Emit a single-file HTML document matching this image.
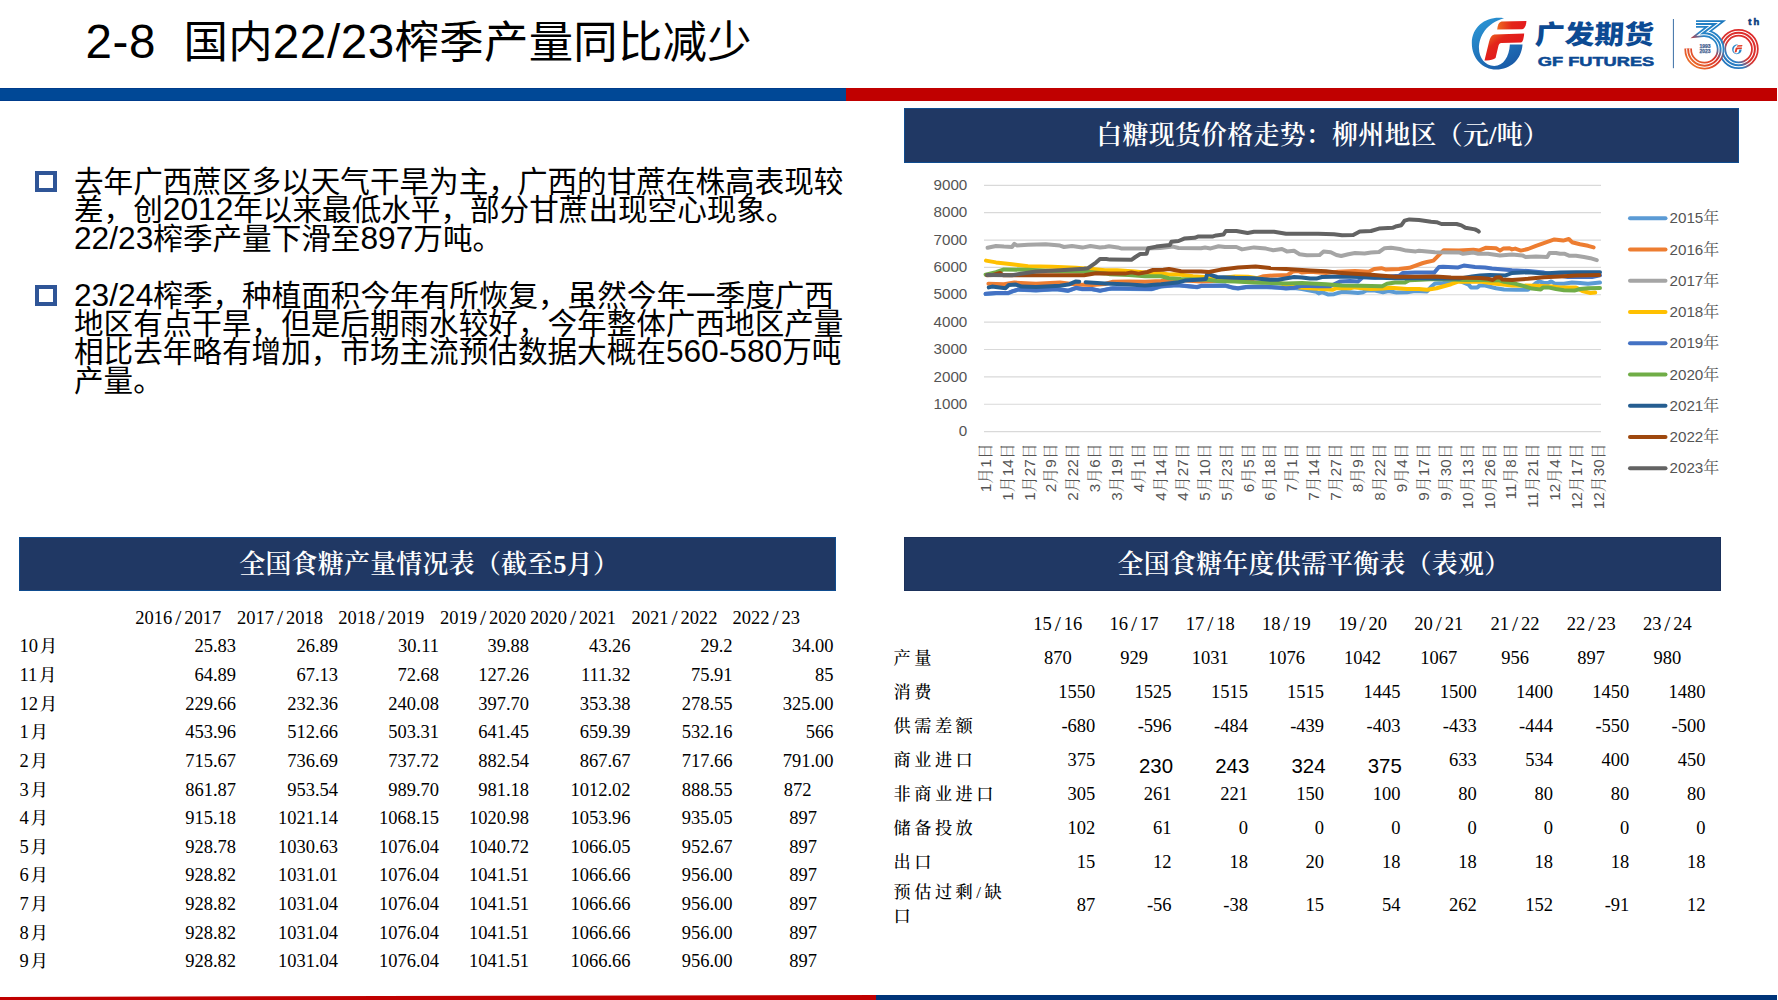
<!DOCTYPE html>
<html lang="zh-CN">
<head>
<meta charset="utf-8">
<title>2-8 国内22/23榨季产量同比减少</title>
<style>
html,body{margin:0;padding:0;background:#fff;}
body{width:1778px;height:1000px;position:relative;overflow:hidden;font-family:"Liberation Sans","Noto Sans CJK SC",sans-serif;color:#000;}
.abs{position:absolute;white-space:nowrap;}
#title{left:85.5px;top:12px;font-size:44.4px;line-height:60px;letter-spacing:0.25px;}
#title .d{font-size:47.5px;letter-spacing:0.6px;}
.body .d{font-size:31.7px;line-height:0;}
.bar{position:absolute;}
.body{position:absolute;left:74px;font-size:29.6px;line-height:28px;height:28px;white-space:nowrap;letter-spacing:0;}
.bul{position:absolute;left:35px;width:13.5px;height:13.5px;border:4px solid #2F5597;background:#fff;}
.hbox{position:absolute;background:#203864;border:1px solid #0F4C8F;box-sizing:border-box;color:#fff;text-align:center;font-family:"Liberation Serif","Noto Serif CJK SC",serif;font-weight:600;font-size:25.9px;letter-spacing:0.3px;padding-left:3px;}
.n{position:absolute;font-family:"Liberation Serif","Noto Serif CJK SC",serif;font-size:18.5px;line-height:24px;height:24px;white-space:nowrap;color:#000;}
.n.c{text-align:center;}
.sl{padding:0 2.9px;font-size:22px;line-height:0;position:relative;top:0.5px;}
.k{font-size:17.5px;padding-left:1.8px;font-weight:500;}
.kl{position:absolute;font-family:"Liberation Serif","Noto Serif CJK SC",serif;font-size:17.2px;line-height:24px;letter-spacing:3.5px;font-weight:500;white-space:nowrap;color:#000;}
.ns{position:absolute;font-family:"Liberation Sans","Noto Sans CJK SC",sans-serif;font-size:20.4px;line-height:24px;height:24px;white-space:nowrap;color:#000;}
</style>
</head>
<body>
<div id="title" class="abs"><span class="d">2-8&nbsp; </span>国内<span class="d">22/23</span>榨季产量同比减少</div>
<div class="bar" style="left:0;top:88px;width:846px;height:13px;background:#004896;box-sizing:border-box;border-top:1px solid #003C8C;border-bottom:1px solid #003C8C"></div>
<div class="bar" style="left:846px;top:88px;width:931px;height:13px;background:#C00000"></div>
<svg class="abs" style="left:0;top:990px" width="1778" height="10" viewBox="0 990 1778 10"><polygon points="0,996.9 876,994.9 876,1000 0,1000" fill="#C00000"/><rect x="876" y="995" width="901" height="5" fill="#003478"/></svg>

<div class="bul" style="top:170.5px"></div>
<div class="body" style="top:167.74px">去年广西蔗区多以天气干旱为主，广西的甘蔗在株高表现较</div>
<div class="body" style="top:196.24px">差，创<span class="d">2012</span>年以来最低水平，部分甘蔗出现空心现象。</div>
<div class="body" style="top:224.74px"><span class="d">22/23</span>榨季产量下滑至<span class="d">897</span>万吨。</div>
<div class="bul" style="top:284.5px"></div>
<div class="body" style="top:281.74px"><span class="d">23/24</span>榨季，种植面积今年有所恢复，虽然今年一季度广西</div>
<div class="body" style="top:310.04px">地区有点干旱，但是后期雨水较好，今年整体广西地区产量</div>
<div class="body" style="top:338.34px">相比去年略有增加，市场主流预估数据大概在<span class="d">560-580</span>万吨</div>
<div class="body" style="top:366.64px">产量。</div>

<div class="hbox" style="left:903.6px;top:107.8px;width:835.2px;height:54.8px;line-height:54.6px;">白糖现货价格走势：柳州地区（元/吨）</div>
<div class="hbox" style="left:19px;top:536.7px;width:817.3px;height:54.6px;line-height:54.4px;">全国食糖产量情况表（截至5月）</div>
<div class="hbox" style="left:904px;top:537px;width:817px;height:53.8px;line-height:54px;border-color:#1B315B;">全国食糖年度供需平衡表（表观）</div>

<svg class="abs" style="left:0;top:0" width="1778" height="1000" viewBox="0 0 1778 1000">
<line x1="984" x2="1601" y1="431.60" y2="431.60" stroke="#D9D9D9" stroke-width="1.2"/>
<line x1="984" x2="1601" y1="404.23" y2="404.23" stroke="#D9D9D9" stroke-width="1.2"/>
<line x1="984" x2="1601" y1="376.87" y2="376.87" stroke="#D9D9D9" stroke-width="1.2"/>
<line x1="984" x2="1601" y1="349.50" y2="349.50" stroke="#D9D9D9" stroke-width="1.2"/>
<line x1="984" x2="1601" y1="322.13" y2="322.13" stroke="#D9D9D9" stroke-width="1.2"/>
<line x1="984" x2="1601" y1="294.77" y2="294.77" stroke="#D9D9D9" stroke-width="1.2"/>
<line x1="984" x2="1601" y1="267.40" y2="267.40" stroke="#D9D9D9" stroke-width="1.2"/>
<line x1="984" x2="1601" y1="240.03" y2="240.03" stroke="#D9D9D9" stroke-width="1.2"/>
<line x1="984" x2="1601" y1="212.67" y2="212.67" stroke="#D9D9D9" stroke-width="1.2"/>
<line x1="984" x2="1601" y1="185.30" y2="185.30" stroke="#D9D9D9" stroke-width="1.2"/>
<polyline points="985.6,294.1 996.0,293.3 1008.0,293.3 1012.0,291.7 1018.4,289.7 1036.0,290.5 1056.0,289.3 1068.0,290.9 1076.0,288.1 1082.4,289.3 1092.0,289.3 1100.0,290.9 1110.0,288.9 1113.0,288.5 1129.0,288.9 1151.4,289.3 1161.0,286.5 1177.0,285.3 1197.0,287.3 1201.0,286.1 1225.0,285.7 1233.0,287.9 1238.0,288.5 1246.0,287.3 1262.0,286.9 1278.0,287.7 1286.0,288.5 1294.0,288.1 1302.0,289.0 1316.4,291.8 1318.8,293.4 1322.0,292.2 1328.4,294.6 1334.0,294.2 1342.0,291.8 1350.0,292.2 1358.0,293.0 1363.0,292.2 1367.0,290.2 1375.0,290.6 1383.0,292.2 1388.6,291.0 1396.6,292.6 1407.0,292.2 1415.0,291.0 1427.0,291.4 1431.8,286.2 1435.0,283.4 1443.0,283.0 1451.0,281.4 1459.0,280.6 1468.6,284.6 1471.0,287.4 1477.4,287.4 1479.8,285.4 1485.0,285.6 1488.0,286.2 1496.0,288.2 1504.0,289.4 1516.0,289.8 1528.0,289.8 1536.0,283.0 1539.2,281.4 1544.0,283.0 1548.0,283.0 1551.2,281.4 1554.4,283.4 1564.0,283.8 1572.0,282.6 1580.0,283.0 1588.0,283.8 1600.0,282.6" fill="none" stroke="#5B9BD5" stroke-width="4.0" stroke-linejoin="round" stroke-linecap="round"/>
<polyline points="988.4,283.8 1004.0,284.2 1014.4,282.6 1036.0,283.8 1060.0,282.6 1076.0,284.6 1092.0,285.0 1105.0,284.0 1113.0,281.8 1129.0,281.4 1145.0,281.8 1161.0,281.0 1169.0,280.2 1185.0,280.6 1201.0,281.4 1230.0,280.2 1245.0,280.6 1258.0,278.0 1263.6,276.2 1274.0,275.4 1287.6,275.0 1293.2,271.4 1298.0,271.0 1302.0,272.6 1310.0,271.8 1326.0,273.0 1338.0,271.8 1355.0,271.0 1368.6,271.8 1374.2,269.0 1381.4,268.2 1385.4,269.4 1399.0,269.0 1409.4,267.8 1423.0,263.0 1427.0,262.0 1433.4,260.6 1439.8,254.2 1443.8,250.2 1459.0,250.6 1473.4,249.8 1479.0,250.6 1485.6,247.8 1496.0,248.2 1500.0,250.6 1503.2,248.6 1509.6,248.2 1512.0,249.4 1515.2,248.6 1520.8,250.6 1528.0,249.0 1536.0,245.8 1554.4,239.4 1563.2,240.6 1568.8,239.0 1572.0,242.2 1580.0,244.2 1588.0,245.8 1593.6,247.4" fill="none" stroke="#ED7D31" stroke-width="4.0" stroke-linejoin="round" stroke-linecap="round"/>
<polyline points="987.6,247.8 996.0,246.0 1004.0,246.6 1012.0,247.0 1014.4,243.8 1016.8,245.4 1028.0,244.8 1045.6,244.2 1060.0,245.6 1064.0,247.0 1072.0,246.0 1082.4,247.6 1090.4,246.0 1100.0,247.4 1105.0,247.0 1109.0,246.2 1117.8,247.4 1121.8,248.6 1145.0,248.6 1160.0,248.0 1173.0,246.6 1178.6,248.0 1201.0,248.2 1205.0,247.6 1210.6,248.4 1218.6,246.2 1225.0,247.0 1236.4,247.0 1242.0,249.4 1254.0,247.4 1266.0,248.6 1273.2,250.2 1282.0,249.0 1286.8,251.4 1294.0,250.8 1299.6,254.2 1306.8,255.2 1319.6,255.0 1323.6,251.4 1330.8,252.2 1336.4,255.0 1341.2,256.0 1348.4,254.2 1355.0,253.0 1364.6,253.4 1371.0,252.6 1379.0,252.0 1384.6,248.2 1391.0,247.8 1399.8,249.0 1406.2,250.6 1415.8,251.4 1419.0,250.8 1427.0,251.4 1435.0,252.2 1459.0,252.4 1463.0,253.8 1473.4,252.6 1478.2,253.8 1488.0,253.8 1500.0,255.4 1512.0,254.6 1522.4,255.4 1525.6,257.0 1536.0,256.6 1547.2,257.0 1549.6,253.0 1556.0,253.0 1560.0,253.8 1564.8,253.8 1569.6,255.8 1576.0,255.8 1584.0,257.0 1590.4,258.2 1596.8,260.2" fill="none" stroke="#A5A5A5" stroke-width="4.0" stroke-linejoin="round" stroke-linecap="round"/>
<polyline points="986.0,260.6 996.0,262.4 1012.0,264.2 1028.0,266.2 1052.0,266.8 1076.0,267.8 1092.0,269.0 1105.0,270.2 1117.0,270.2 1135.0,271.6 1149.8,273.0 1157.0,272.8 1169.0,274.6 1177.0,274.2 1193.0,276.2 1205.0,277.0 1209.0,278.2 1217.0,279.0 1225.0,277.4 1235.0,276.6 1248.0,276.8 1262.0,279.0 1275.0,282.0 1288.0,285.4 1298.8,287.4 1310.0,288.2 1322.0,289.0 1332.4,289.8 1336.4,288.2 1350.0,288.2 1355.0,287.4 1371.0,289.0 1383.0,288.6 1391.0,287.8 1407.0,289.0 1419.0,289.0 1427.0,289.8 1436.6,288.2 1451.0,284.2 1459.0,281.4 1467.0,281.8 1480.0,281.4 1496.0,283.8 1512.0,285.4 1536.0,285.8 1552.0,286.6 1560.0,287.4 1576.0,287.4 1582.4,291.0 1590.4,293.0 1595.2,292.6" fill="none" stroke="#FFC000" stroke-width="4.0" stroke-linejoin="round" stroke-linecap="round"/>
<polyline points="985.6,293.8 996.0,293.0 1008.0,293.0 1012.0,291.4 1018.4,289.4 1036.0,290.2 1056.0,289.0 1068.0,290.6 1076.0,287.8 1082.4,289.0 1092.0,289.0 1100.0,290.6 1110.0,288.6 1113.0,288.2 1129.0,288.6 1151.4,289.0 1161.0,286.2 1177.0,285.0 1197.0,287.0 1201.0,285.8 1225.0,285.4 1233.0,287.6 1238.0,288.2 1246.0,287.0 1262.0,286.6 1278.0,287.4 1286.0,288.2 1294.0,287.8 1302.0,285.8 1318.0,286.2 1330.0,286.2 1340.4,281.4 1350.0,281.0 1358.2,281.4 1363.0,277.0 1375.0,277.8 1399.0,275.8 1403.0,273.0 1415.0,272.6 1434.2,272.6 1439.0,267.0 1443.0,266.8 1458.2,267.4 1463.8,265.6 1475.0,267.0 1485.0,267.6 1492.0,268.6 1512.0,270.2 1528.0,271.0 1544.0,272.6 1556.0,275.0 1568.0,277.0 1592.0,277.0 1600.0,275.4" fill="none" stroke="#4472C4" stroke-width="4.0" stroke-linejoin="round" stroke-linecap="round"/>
<polyline points="985.6,274.6 996.0,272.2 1004.0,269.4 1028.0,269.8 1052.0,271.0 1084.0,271.4 1105.0,273.4 1110.0,274.2 1129.0,275.0 1145.0,276.2 1161.0,276.2 1169.0,278.2 1181.0,279.0 1207.4,279.8 1217.0,281.0 1235.0,281.6 1254.0,282.6 1286.0,283.4 1302.0,283.0 1326.0,284.2 1342.0,285.4 1360.0,285.8 1382.2,286.2 1387.0,283.8 1395.0,282.6 1404.6,282.6 1409.4,280.2 1420.6,279.8 1435.0,279.0 1450.0,279.4 1465.0,280.0 1480.0,279.8 1492.0,280.4 1498.4,280.2 1504.0,281.8 1516.0,283.8 1524.0,286.2 1532.0,288.6 1540.8,289.4 1543.2,287.4 1548.0,287.4 1556.0,289.0 1564.0,290.2 1574.4,290.6 1580.0,289.0 1588.0,288.2 1600.0,288.0" fill="none" stroke="#70AD47" stroke-width="4.0" stroke-linejoin="round" stroke-linecap="round"/>
<polyline points="988.8,287.4 992.0,286.6 1005.6,288.2 1008.8,285.0 1016.0,284.6 1021.6,286.6 1036.0,287.0 1060.0,285.8 1069.6,284.2 1076.0,281.4 1079.2,281.8" fill="none" stroke="#255E91" stroke-width="4.0" stroke-linejoin="round" stroke-linecap="round"/>
<polyline points="1085.6,282.2 1105.0,283.4 1129.0,284.6 1145.0,285.4 1161.0,284.2 1177.0,282.6 1185.0,280.6 1201.0,279.4 1205.8,279.0 1207.0,274.6 1209.8,274.6 1217.0,277.0 1235.0,277.8 1254.0,278.2 1270.0,279.8 1278.0,279.8 1294.0,277.0 1302.0,277.4 1310.0,278.6 1316.4,278.6 1322.0,277.0 1342.0,276.6 1360.0,277.0 1371.0,277.4 1395.0,278.2 1419.0,278.2 1435.0,278.6 1459.0,278.6 1472.0,276.4 1480.0,275.4 1489.6,275.0 1505.6,275.4 1512.0,273.0 1528.0,272.2 1544.0,273.4 1560.0,272.6 1576.0,272.2 1600.0,272.2" fill="none" stroke="#255E91" stroke-width="4.0" stroke-linejoin="round" stroke-linecap="round"/>
<polyline points="987.2,275.3 993.0,274.9 1000.0,272.9 1003.0,275.3 1028.0,275.3 1060.0,275.3 1084.0,275.3 1096.0,273.3 1110.0,273.4 1125.0,273.6 1131.4,272.4 1138.6,273.6 1147.4,272.0 1153.0,270.0 1163.4,269.8 1169.0,269.0 1181.0,271.2 1201.0,271.4 1209.0,272.0 1221.0,269.6 1230.0,268.4 1238.0,267.6 1255.6,266.6 1270.0,268.0 1294.0,269.6 1310.0,270.4 1326.0,271.2 1338.0,272.8 1350.0,273.6 1371.0,274.8 1395.0,276.8 1419.0,276.8 1435.0,276.4 1451.0,277.6 1480.0,278.0 1488.0,278.8 1492.8,280.0 1496.0,277.6 1500.0,277.2 1502.4,279.6 1512.0,280.0 1528.0,278.8 1544.0,277.2 1560.0,276.4 1576.0,275.6 1599.2,275.0" fill="none" stroke="#9E480E" stroke-width="4.0" stroke-linejoin="round" stroke-linecap="round"/>
<polyline points="987.2,275.0 1012.0,275.2 1036.0,271.4 1060.0,270.2 1084.0,268.8 1088.0,268.2 1096.0,262.6 1100.0,259.0 1106.4,259.0 1110.0,259.6 1131.4,259.8 1135.4,257.0 1140.2,254.0 1146.6,253.8 1148.2,248.2 1156.2,246.6 1169.8,245.0 1171.4,241.8 1178.6,241.0 1184.2,238.6 1194.6,237.8 1197.8,236.6 1213.0,236.4 1216.2,235.4 1223.4,234.6 1225.8,231.0 1236.4,231.0 1247.6,233.0 1254.0,231.8 1274.0,231.8 1286.0,233.8 1318.0,233.8 1334.0,234.2 1342.0,235.2 1353.2,235.0 1359.8,231.4 1371.0,231.0 1379.0,228.6 1392.6,227.8 1396.6,226.2 1401.4,225.2 1404.6,220.6 1409.4,219.4 1419.0,220.0 1431.0,221.8 1436.6,222.2 1441.4,224.0 1456.6,224.0 1461.4,225.4 1465.4,227.8 1475.0,229.4 1478.2,231.0 1478.8,231.6" fill="none" stroke="#636363" stroke-width="4.0" stroke-linejoin="round" stroke-linecap="round"/>
<g font-family="'Liberation Sans','Noto Sans CJK SC',sans-serif" font-size="15.2" fill="#545454">
<text x="967.3" y="436.2" text-anchor="end">0</text>
<text x="967.3" y="408.8" text-anchor="end">1000</text>
<text x="967.3" y="381.5" text-anchor="end">2000</text>
<text x="967.3" y="354.1" text-anchor="end">3000</text>
<text x="967.3" y="326.7" text-anchor="end">4000</text>
<text x="967.3" y="299.4" text-anchor="end">5000</text>
<text x="967.3" y="272.0" text-anchor="end">6000</text>
<text x="967.3" y="244.6" text-anchor="end">7000</text>
<text x="967.3" y="217.3" text-anchor="end">8000</text>
<text x="967.3" y="189.9" text-anchor="end">9000</text>
</g>
<g font-family="'Liberation Sans','Noto Serif CJK SC',serif" font-size="15.2" fill="#545454" text-anchor="end">
<text transform="translate(990.7,443.3) rotate(-90)">1<tspan font-size="16">月</tspan>1<tspan font-size="16">日</tspan></text>
<text transform="translate(1012.6,443.3) rotate(-90)">1<tspan font-size="16">月</tspan>14<tspan font-size="16">日</tspan></text>
<text transform="translate(1034.5,443.3) rotate(-90)">1<tspan font-size="16">月</tspan>27<tspan font-size="16">日</tspan></text>
<text transform="translate(1056.4,443.3) rotate(-90)">2<tspan font-size="16">月</tspan>9<tspan font-size="16">日</tspan></text>
<text transform="translate(1078.3,443.3) rotate(-90)">2<tspan font-size="16">月</tspan>22<tspan font-size="16">日</tspan></text>
<text transform="translate(1100.2,443.3) rotate(-90)">3<tspan font-size="16">月</tspan>6<tspan font-size="16">日</tspan></text>
<text transform="translate(1122.1,443.3) rotate(-90)">3<tspan font-size="16">月</tspan>19<tspan font-size="16">日</tspan></text>
<text transform="translate(1144.0,443.3) rotate(-90)">4<tspan font-size="16">月</tspan>1<tspan font-size="16">日</tspan></text>
<text transform="translate(1165.9,443.3) rotate(-90)">4<tspan font-size="16">月</tspan>14<tspan font-size="16">日</tspan></text>
<text transform="translate(1187.8,443.3) rotate(-90)">4<tspan font-size="16">月</tspan>27<tspan font-size="16">日</tspan></text>
<text transform="translate(1209.7,443.3) rotate(-90)">5<tspan font-size="16">月</tspan>10<tspan font-size="16">日</tspan></text>
<text transform="translate(1231.6,443.3) rotate(-90)">5<tspan font-size="16">月</tspan>23<tspan font-size="16">日</tspan></text>
<text transform="translate(1253.5,443.3) rotate(-90)">6<tspan font-size="16">月</tspan>5<tspan font-size="16">日</tspan></text>
<text transform="translate(1275.4,443.3) rotate(-90)">6<tspan font-size="16">月</tspan>18<tspan font-size="16">日</tspan></text>
<text transform="translate(1297.3,443.3) rotate(-90)">7<tspan font-size="16">月</tspan>1<tspan font-size="16">日</tspan></text>
<text transform="translate(1319.3,443.3) rotate(-90)">7<tspan font-size="16">月</tspan>14<tspan font-size="16">日</tspan></text>
<text transform="translate(1341.2,443.3) rotate(-90)">7<tspan font-size="16">月</tspan>27<tspan font-size="16">日</tspan></text>
<text transform="translate(1363.1,443.3) rotate(-90)">8<tspan font-size="16">月</tspan>9<tspan font-size="16">日</tspan></text>
<text transform="translate(1385.0,443.3) rotate(-90)">8<tspan font-size="16">月</tspan>22<tspan font-size="16">日</tspan></text>
<text transform="translate(1406.9,443.3) rotate(-90)">9<tspan font-size="16">月</tspan>4<tspan font-size="16">日</tspan></text>
<text transform="translate(1428.8,443.3) rotate(-90)">9<tspan font-size="16">月</tspan>17<tspan font-size="16">日</tspan></text>
<text transform="translate(1450.7,443.3) rotate(-90)">9<tspan font-size="16">月</tspan>30<tspan font-size="16">日</tspan></text>
<text transform="translate(1472.6,443.3) rotate(-90)">10<tspan font-size="16">月</tspan>13<tspan font-size="16">日</tspan></text>
<text transform="translate(1494.5,443.3) rotate(-90)">10<tspan font-size="16">月</tspan>26<tspan font-size="16">日</tspan></text>
<text transform="translate(1516.4,443.3) rotate(-90)">11<tspan font-size="16">月</tspan>8<tspan font-size="16">日</tspan></text>
<text transform="translate(1538.3,443.3) rotate(-90)">11<tspan font-size="16">月</tspan>21<tspan font-size="16">日</tspan></text>
<text transform="translate(1560.2,443.3) rotate(-90)">12<tspan font-size="16">月</tspan>4<tspan font-size="16">日</tspan></text>
<text transform="translate(1582.1,443.3) rotate(-90)">12<tspan font-size="16">月</tspan>17<tspan font-size="16">日</tspan></text>
<text transform="translate(1604.0,443.3) rotate(-90)">12<tspan font-size="16">月</tspan>30<tspan font-size="16">日</tspan></text>
</g>
<g font-family="'Liberation Sans','Noto Serif CJK SC',serif" font-size="15.2" fill="#545454">
<line x1="1630" x2="1665.5" y1="218.2" y2="218.2" stroke="#5B9BD5" stroke-width="4.0" stroke-linecap="round"/>
<text x="1669.5" y="223.4">2015<tspan font-size="16">年</tspan></text>
<line x1="1630" x2="1665.5" y1="249.4" y2="249.4" stroke="#ED7D31" stroke-width="4.0" stroke-linecap="round"/>
<text x="1669.5" y="254.6">2016<tspan font-size="16">年</tspan></text>
<line x1="1630" x2="1665.5" y1="280.7" y2="280.7" stroke="#A5A5A5" stroke-width="4.0" stroke-linecap="round"/>
<text x="1669.5" y="285.9">2017<tspan font-size="16">年</tspan></text>
<line x1="1630" x2="1665.5" y1="311.9" y2="311.9" stroke="#FFC000" stroke-width="4.0" stroke-linecap="round"/>
<text x="1669.5" y="317.1">2018<tspan font-size="16">年</tspan></text>
<line x1="1630" x2="1665.5" y1="343.2" y2="343.2" stroke="#4472C4" stroke-width="4.0" stroke-linecap="round"/>
<text x="1669.5" y="348.4">2019<tspan font-size="16">年</tspan></text>
<line x1="1630" x2="1665.5" y1="374.4" y2="374.4" stroke="#70AD47" stroke-width="4.0" stroke-linecap="round"/>
<text x="1669.5" y="379.6">2020<tspan font-size="16">年</tspan></text>
<line x1="1630" x2="1665.5" y1="405.7" y2="405.7" stroke="#255E91" stroke-width="4.0" stroke-linecap="round"/>
<text x="1669.5" y="410.9">2021<tspan font-size="16">年</tspan></text>
<line x1="1630" x2="1665.5" y1="436.9" y2="436.9" stroke="#9E480E" stroke-width="4.0" stroke-linecap="round"/>
<text x="1669.5" y="442.1">2022<tspan font-size="16">年</tspan></text>
<line x1="1630" x2="1665.5" y1="468.2" y2="468.2" stroke="#636363" stroke-width="4.0" stroke-linecap="round"/>
<text x="1669.5" y="473.4">2023<tspan font-size="16">年</tspan></text>
</g>
</svg>
<div class="n" style="left:135.3px;top:606.4px;">2016<span class="sl">/</span>2017</div>
<div class="n" style="left:237.0px;top:606.4px;">2017<span class="sl">/</span>2018</div>
<div class="n" style="left:338.3px;top:606.4px;">2018<span class="sl">/</span>2019</div>
<div class="n" style="left:440.0px;top:606.4px;">2019<span class="sl">/</span>2020</div>
<div class="n" style="left:530.0px;top:606.4px;">2020<span class="sl">/</span>2021</div>
<div class="n" style="left:631.5px;top:606.4px;">2021<span class="sl">/</span>2022</div>
<div class="n" style="left:732.5px;top:606.4px;">2022<span class="sl">/</span>23</div>
<div class="n" style="left:19.4px;top:634.4px;">10<span class="k">月</span></div>
<div class="n" style="right:1542.0px;top:634.4px;">25.83</div>
<div class="n" style="right:1440.0px;top:634.4px;">26.89</div>
<div class="n" style="right:1339.0px;top:634.4px;">30.11</div>
<div class="n" style="right:1249.0px;top:634.4px;">39.88</div>
<div class="n" style="right:1147.5px;top:634.4px;">43.26</div>
<div class="n" style="right:1045.5px;top:634.4px;">29.2</div>
<div class="n" style="right:944.5px;top:634.4px;">34.00</div>
<div class="n" style="left:19.4px;top:663.0px;">11<span class="k">月</span></div>
<div class="n" style="right:1542.0px;top:663.0px;">64.89</div>
<div class="n" style="right:1440.0px;top:663.0px;">67.13</div>
<div class="n" style="right:1339.0px;top:663.0px;">72.68</div>
<div class="n" style="right:1249.0px;top:663.0px;">127.26</div>
<div class="n" style="right:1147.5px;top:663.0px;">111.32</div>
<div class="n" style="right:1045.5px;top:663.0px;">75.91</div>
<div class="n" style="right:944.5px;top:663.0px;">85</div>
<div class="n" style="left:19.4px;top:691.6px;">12<span class="k">月</span></div>
<div class="n" style="right:1542.0px;top:691.6px;">229.66</div>
<div class="n" style="right:1440.0px;top:691.6px;">232.36</div>
<div class="n" style="right:1339.0px;top:691.6px;">240.08</div>
<div class="n" style="right:1249.0px;top:691.6px;">397.70</div>
<div class="n" style="right:1147.5px;top:691.6px;">353.38</div>
<div class="n" style="right:1045.5px;top:691.6px;">278.55</div>
<div class="n" style="right:944.5px;top:691.6px;">325.00</div>
<div class="n" style="left:19.4px;top:720.2px;">1<span class="k">月</span></div>
<div class="n" style="right:1542.0px;top:720.2px;">453.96</div>
<div class="n" style="right:1440.0px;top:720.2px;">512.66</div>
<div class="n" style="right:1339.0px;top:720.2px;">503.31</div>
<div class="n" style="right:1249.0px;top:720.2px;">641.45</div>
<div class="n" style="right:1147.5px;top:720.2px;">659.39</div>
<div class="n" style="right:1045.5px;top:720.2px;">532.16</div>
<div class="n" style="right:944.5px;top:720.2px;">566</div>
<div class="n" style="left:19.4px;top:748.8px;">2<span class="k">月</span></div>
<div class="n" style="right:1542.0px;top:748.8px;">715.67</div>
<div class="n" style="right:1440.0px;top:748.8px;">736.69</div>
<div class="n" style="right:1339.0px;top:748.8px;">737.72</div>
<div class="n" style="right:1249.0px;top:748.8px;">882.54</div>
<div class="n" style="right:1147.5px;top:748.8px;">867.67</div>
<div class="n" style="right:1045.5px;top:748.8px;">717.66</div>
<div class="n" style="right:944.5px;top:748.8px;">791.00</div>
<div class="n" style="left:19.4px;top:777.5px;">3<span class="k">月</span></div>
<div class="n" style="right:1542.0px;top:777.5px;">861.87</div>
<div class="n" style="right:1440.0px;top:777.5px;">953.54</div>
<div class="n" style="right:1339.0px;top:777.5px;">989.70</div>
<div class="n" style="right:1249.0px;top:777.5px;">981.18</div>
<div class="n" style="right:1147.5px;top:777.5px;">1012.02</div>
<div class="n" style="right:1045.5px;top:777.5px;">888.55</div>
<div class="n" style="right:966.5px;top:777.5px;">872</div>
<div class="n" style="left:19.4px;top:806.1px;">4<span class="k">月</span></div>
<div class="n" style="right:1542.0px;top:806.1px;">915.18</div>
<div class="n" style="right:1440.0px;top:806.1px;">1021.14</div>
<div class="n" style="right:1339.0px;top:806.1px;">1068.15</div>
<div class="n" style="right:1249.0px;top:806.1px;">1020.98</div>
<div class="n" style="right:1147.5px;top:806.1px;">1053.96</div>
<div class="n" style="right:1045.5px;top:806.1px;">935.05</div>
<div class="n" style="right:961.0px;top:806.1px;">897</div>
<div class="n" style="left:19.4px;top:834.7px;">5<span class="k">月</span></div>
<div class="n" style="right:1542.0px;top:834.7px;">928.78</div>
<div class="n" style="right:1440.0px;top:834.7px;">1030.63</div>
<div class="n" style="right:1339.0px;top:834.7px;">1076.04</div>
<div class="n" style="right:1249.0px;top:834.7px;">1040.72</div>
<div class="n" style="right:1147.5px;top:834.7px;">1066.05</div>
<div class="n" style="right:1045.5px;top:834.7px;">952.67</div>
<div class="n" style="right:961.0px;top:834.7px;">897</div>
<div class="n" style="left:19.4px;top:863.3px;">6<span class="k">月</span></div>
<div class="n" style="right:1542.0px;top:863.3px;">928.82</div>
<div class="n" style="right:1440.0px;top:863.3px;">1031.01</div>
<div class="n" style="right:1339.0px;top:863.3px;">1076.04</div>
<div class="n" style="right:1249.0px;top:863.3px;">1041.51</div>
<div class="n" style="right:1147.5px;top:863.3px;">1066.66</div>
<div class="n" style="right:1045.5px;top:863.3px;">956.00</div>
<div class="n" style="right:961.0px;top:863.3px;">897</div>
<div class="n" style="left:19.4px;top:891.9px;">7<span class="k">月</span></div>
<div class="n" style="right:1542.0px;top:891.9px;">928.82</div>
<div class="n" style="right:1440.0px;top:891.9px;">1031.04</div>
<div class="n" style="right:1339.0px;top:891.9px;">1076.04</div>
<div class="n" style="right:1249.0px;top:891.9px;">1041.51</div>
<div class="n" style="right:1147.5px;top:891.9px;">1066.66</div>
<div class="n" style="right:1045.5px;top:891.9px;">956.00</div>
<div class="n" style="right:961.0px;top:891.9px;">897</div>
<div class="n" style="left:19.4px;top:920.6px;">8<span class="k">月</span></div>
<div class="n" style="right:1542.0px;top:920.6px;">928.82</div>
<div class="n" style="right:1440.0px;top:920.6px;">1031.04</div>
<div class="n" style="right:1339.0px;top:920.6px;">1076.04</div>
<div class="n" style="right:1249.0px;top:920.6px;">1041.51</div>
<div class="n" style="right:1147.5px;top:920.6px;">1066.66</div>
<div class="n" style="right:1045.5px;top:920.6px;">956.00</div>
<div class="n" style="right:961.0px;top:920.6px;">897</div>
<div class="n" style="left:19.4px;top:949.2px;">9<span class="k">月</span></div>
<div class="n" style="right:1542.0px;top:949.2px;">928.82</div>
<div class="n" style="right:1440.0px;top:949.2px;">1031.04</div>
<div class="n" style="right:1339.0px;top:949.2px;">1076.04</div>
<div class="n" style="right:1249.0px;top:949.2px;">1041.51</div>
<div class="n" style="right:1147.5px;top:949.2px;">1066.66</div>
<div class="n" style="right:1045.5px;top:949.2px;">956.00</div>
<div class="n" style="right:961.0px;top:949.2px;">897</div>
<div class="n c" style="left:997.8px;width:120px;top:612.2px;">15<span class="sl">/</span>16</div>
<div class="n c" style="left:1074.0px;width:120px;top:612.2px;">16<span class="sl">/</span>17</div>
<div class="n c" style="left:1150.2px;width:120px;top:612.2px;">17<span class="sl">/</span>18</div>
<div class="n c" style="left:1226.4px;width:120px;top:612.2px;">18<span class="sl">/</span>19</div>
<div class="n c" style="left:1302.6px;width:120px;top:612.2px;">19<span class="sl">/</span>20</div>
<div class="n c" style="left:1378.8px;width:120px;top:612.2px;">20<span class="sl">/</span>21</div>
<div class="n c" style="left:1455.0px;width:120px;top:612.2px;">21<span class="sl">/</span>22</div>
<div class="n c" style="left:1531.2px;width:120px;top:612.2px;">22<span class="sl">/</span>23</div>
<div class="n c" style="left:1607.4px;width:120px;top:612.2px;">23<span class="sl">/</span>24</div>
<div class="kl" style="left:893.5px;top:646.8px;">产量</div>
<div class="n c" style="left:997.8px;width:120px;top:645.8px;">870</div>
<div class="n c" style="left:1074.0px;width:120px;top:645.8px;">929</div>
<div class="n c" style="left:1150.2px;width:120px;top:645.8px;">1031</div>
<div class="n c" style="left:1226.4px;width:120px;top:645.8px;">1076</div>
<div class="n c" style="left:1302.6px;width:120px;top:645.8px;">1042</div>
<div class="n c" style="left:1378.8px;width:120px;top:645.8px;">1067</div>
<div class="n c" style="left:1455.0px;width:120px;top:645.8px;">956</div>
<div class="n c" style="left:1531.2px;width:120px;top:645.8px;">897</div>
<div class="n c" style="left:1607.4px;width:120px;top:645.8px;">980</div>
<div class="kl" style="left:893.5px;top:681.0px;">消费</div>
<div class="n" style="right:682.7px;top:680.0px;">1550</div>
<div class="n" style="right:606.4px;top:680.0px;">1525</div>
<div class="n" style="right:530.1px;top:680.0px;">1515</div>
<div class="n" style="right:453.9px;top:680.0px;">1515</div>
<div class="n" style="right:377.6px;top:680.0px;">1445</div>
<div class="n" style="right:301.3px;top:680.0px;">1500</div>
<div class="n" style="right:225.0px;top:680.0px;">1400</div>
<div class="n" style="right:148.7px;top:680.0px;">1450</div>
<div class="n" style="right:72.5px;top:680.0px;">1480</div>
<div class="kl" style="left:893.5px;top:715.1px;">供需差额</div>
<div class="n" style="right:682.7px;top:714.1px;">-680</div>
<div class="n" style="right:606.4px;top:714.1px;">-596</div>
<div class="n" style="right:530.1px;top:714.1px;">-484</div>
<div class="n" style="right:453.9px;top:714.1px;">-439</div>
<div class="n" style="right:377.6px;top:714.1px;">-403</div>
<div class="n" style="right:301.3px;top:714.1px;">-433</div>
<div class="n" style="right:225.0px;top:714.1px;">-444</div>
<div class="n" style="right:148.7px;top:714.1px;">-550</div>
<div class="n" style="right:72.5px;top:714.1px;">-500</div>
<div class="kl" style="left:893.5px;top:748.8px;">商业进口</div>
<div class="n" style="right:682.7px;top:747.8px;">375</div>
<div class="ns" style="right:605.0px;top:753.6px;">230</div>
<div class="ns" style="right:528.7px;top:753.6px;">243</div>
<div class="ns" style="right:452.5px;top:753.6px;">324</div>
<div class="ns" style="right:376.2px;top:753.6px;">375</div>
<div class="n" style="right:301.3px;top:747.8px;">633</div>
<div class="n" style="right:225.0px;top:747.8px;">534</div>
<div class="n" style="right:148.7px;top:747.8px;">400</div>
<div class="n" style="right:72.5px;top:747.8px;">450</div>
<div class="kl" style="left:893.5px;top:782.7px;">非商业进口</div>
<div class="n" style="right:682.7px;top:781.7px;">305</div>
<div class="n" style="right:606.4px;top:781.7px;">261</div>
<div class="n" style="right:530.1px;top:781.7px;">221</div>
<div class="n" style="right:453.9px;top:781.7px;">150</div>
<div class="n" style="right:377.6px;top:781.7px;">100</div>
<div class="n" style="right:301.3px;top:781.7px;">80</div>
<div class="n" style="right:225.0px;top:781.7px;">80</div>
<div class="n" style="right:148.7px;top:781.7px;">80</div>
<div class="n" style="right:72.5px;top:781.7px;">80</div>
<div class="kl" style="left:893.5px;top:816.9px;">储备投放</div>
<div class="n" style="right:682.7px;top:815.9px;">102</div>
<div class="n" style="right:606.4px;top:815.9px;">61</div>
<div class="n" style="right:530.1px;top:815.9px;">0</div>
<div class="n" style="right:453.9px;top:815.9px;">0</div>
<div class="n" style="right:377.6px;top:815.9px;">0</div>
<div class="n" style="right:301.3px;top:815.9px;">0</div>
<div class="n" style="right:225.0px;top:815.9px;">0</div>
<div class="n" style="right:148.7px;top:815.9px;">0</div>
<div class="n" style="right:72.5px;top:815.9px;">0</div>
<div class="kl" style="left:893.5px;top:851.3px;">出口</div>
<div class="n" style="right:682.7px;top:850.3px;">15</div>
<div class="n" style="right:606.4px;top:850.3px;">12</div>
<div class="n" style="right:530.1px;top:850.3px;">18</div>
<div class="n" style="right:453.9px;top:850.3px;">20</div>
<div class="n" style="right:377.6px;top:850.3px;">18</div>
<div class="n" style="right:301.3px;top:850.3px;">18</div>
<div class="n" style="right:225.0px;top:850.3px;">18</div>
<div class="n" style="right:148.7px;top:850.3px;">18</div>
<div class="n" style="right:72.5px;top:850.3px;">18</div>
<div class="kl" style="left:893.5px;top:881.0px;">预估过剩/缺<br>口</div>
<div class="n" style="right:682.7px;top:892.6px;">87</div>
<div class="n" style="right:606.4px;top:892.6px;">-56</div>
<div class="n" style="right:530.1px;top:892.6px;">-38</div>
<div class="n" style="right:453.9px;top:892.6px;">15</div>
<div class="n" style="right:377.6px;top:892.6px;">54</div>
<div class="n" style="right:301.3px;top:892.6px;">262</div>
<div class="n" style="right:225.0px;top:892.6px;">152</div>
<div class="n" style="right:148.7px;top:892.6px;">-91</div>
<div class="n" style="right:72.5px;top:892.6px;">12</div>
<svg class="abs" style="left:1460px;top:0" width="318" height="88" viewBox="1460 0 318 88">
<defs>
<linearGradient id="gG" x1="0" y1="0" x2="0.6" y2="1"><stop offset="0" stop-color="#2C9BD9"/><stop offset="1" stop-color="#1A5CA8"/></linearGradient>
<linearGradient id="gF" x1="0" y1="0" x2="1" y2="0"><stop offset="0" stop-color="#EE6A20"/><stop offset="0.5" stop-color="#E3261A"/><stop offset="1" stop-color="#E41B1E"/></linearGradient>
<linearGradient id="g3" gradientUnits="userSpaceOnUse" x1="1722" y1="20" x2="1688" y2="66"><stop offset="0" stop-color="#1C78BE"/><stop offset="0.42" stop-color="#2A86C8"/><stop offset="0.6" stop-color="#D9302A"/><stop offset="1" stop-color="#EF7A2B"/></linearGradient>
<linearGradient id="g0" gradientUnits="userSpaceOnUse" x1="1752" y1="32" x2="1724" y2="66"><stop offset="0" stop-color="#DE2A2A"/><stop offset="0.55" stop-color="#D9342F"/><stop offset="0.75" stop-color="#2E7FC4"/><stop offset="1" stop-color="#1F74BC"/></linearGradient>
<linearGradient id="gF2" x1="0" y1="0" x2="0.55" y2="0.5"><stop offset="0" stop-color="#F07A22"/><stop offset="0.6" stop-color="#E3261A"/><stop offset="1" stop-color="#E21C1C"/></linearGradient>
</defs>
<g transform="translate(1465,10) scale(0.06502)">
<path fill="url(#gG)" d="M600,125 C350,85 105,235 105,510 C105,740 270,915 480,915 C700,915 870,760 885,530 L690,530 C680,720 590,860 450,860 C310,860 215,740 215,590 C215,400 330,200 600,125 Z"/>
<path fill="url(#gF)" d="M560,175 L945,168 C940,230 920,290 880,295 L495,300 C500,240 520,185 560,175 Z"/>
<path fill="url(#gF2)" d="M450,375 L910,360 C905,430 890,495 860,500 L560,508 C530,510 520,525 512,560 L470,740 C440,770 360,780 300,775 L370,490 C385,420 410,385 450,375 Z"/>
</g>
<text x="1534.6" y="44.0" font-family="'Liberation Sans','Noto Sans CJK SC',sans-serif" font-weight="900" font-size="26.5" fill="#0C4A93" textLength="119" lengthAdjust="spacingAndGlyphs" transform="translate(2.2,0) skewX(-3)">广发期货</text>
<text x="1537.8" y="65.6" font-family="'Liberation Sans',sans-serif" font-weight="bold" font-size="13.6" fill="#0C4A93" stroke="#0C4A93" stroke-width="0.55" textLength="116.4" lengthAdjust="spacingAndGlyphs">GF FUTURES</text>
<line x1="1673.4" x2="1673.4" y1="19" y2="68.2" stroke="#3A6EA5" stroke-width="1"/>
<path d="M1738.6,32.7 A16.3,16.3 0 0 1 1738.6,65.3 A16.3,16.3 0 0 1 1738.6,32.7 Z" fill="none" stroke="url(#g0)" stroke-width="7.6" />
<path d="M1738.6,32.7 A16.3,16.3 0 0 1 1738.6,65.3 A16.3,16.3 0 0 1 1738.6,32.7 Z" fill="none" stroke="#fff" stroke-width="4.1" />
<path d="M1738.6,32.7 A16.3,16.3 0 0 1 1738.6,65.3 A16.3,16.3 0 0 1 1738.6,32.7 Z" fill="none" stroke="url(#g0)" stroke-width="2.0" />
<path d="M1696,24 L1715.0,24 L1703.0,33.3 A16.2,16.2 0 1 1 1688.2,49.4 L1688.2,48.4" fill="none" stroke="url(#g3)" stroke-width="7.6" stroke-linejoin="miter" stroke-miterlimit="10"/>
<path d="M1696,24 L1715.0,24 L1703.0,33.3 A16.2,16.2 0 1 1 1688.2,49.4 L1688.2,48.4" fill="none" stroke="#fff" stroke-width="4.1" stroke-linejoin="miter" stroke-miterlimit="10"/>
<path d="M1696,24 L1715.0,24 L1703.0,33.3 A16.2,16.2 0 1 1 1688.2,49.4 L1688.2,48.4" fill="none" stroke="url(#g3)" stroke-width="2.0" stroke-linejoin="miter" stroke-miterlimit="10"/>
<g transform="translate(1730.9,43.0) scale(0.0122)">
<path fill="#2A86C8" d="M600,125 C350,85 105,235 105,510 C105,740 270,915 480,915 C700,915 870,760 885,530 L690,530 C680,720 590,860 450,860 C310,860 215,740 215,590 C215,400 330,200 600,125 Z"/>
<path fill="#E33A26" d="M560,175 L945,168 C940,230 920,290 880,295 L495,300 C500,240 520,185 560,175 Z"/>
<path fill="#E33A26" d="M450,375 L910,360 C905,430 890,495 860,500 L560,508 C530,510 520,525 512,560 L470,740 C440,770 360,780 300,775 L370,490 C385,420 410,385 450,375 Z"/>
</g>
<text font-family="'Liberation Sans',sans-serif" font-weight="bold" font-size="5.0" fill="#44618F" stroke="#44618F" stroke-width="0.25" text-anchor="middle"><tspan x="1705" y="48.2">1993</tspan><tspan x="1705" y="53">2023</tspan></text>
<text x="1748.2" y="24.6" font-family="'Liberation Sans',sans-serif" font-weight="bold" font-size="9.4" fill="#0B3D7E" stroke="#0B3D7E" stroke-width="0.6" letter-spacing="2.2">th</text>
</svg>
</body>
</html>
